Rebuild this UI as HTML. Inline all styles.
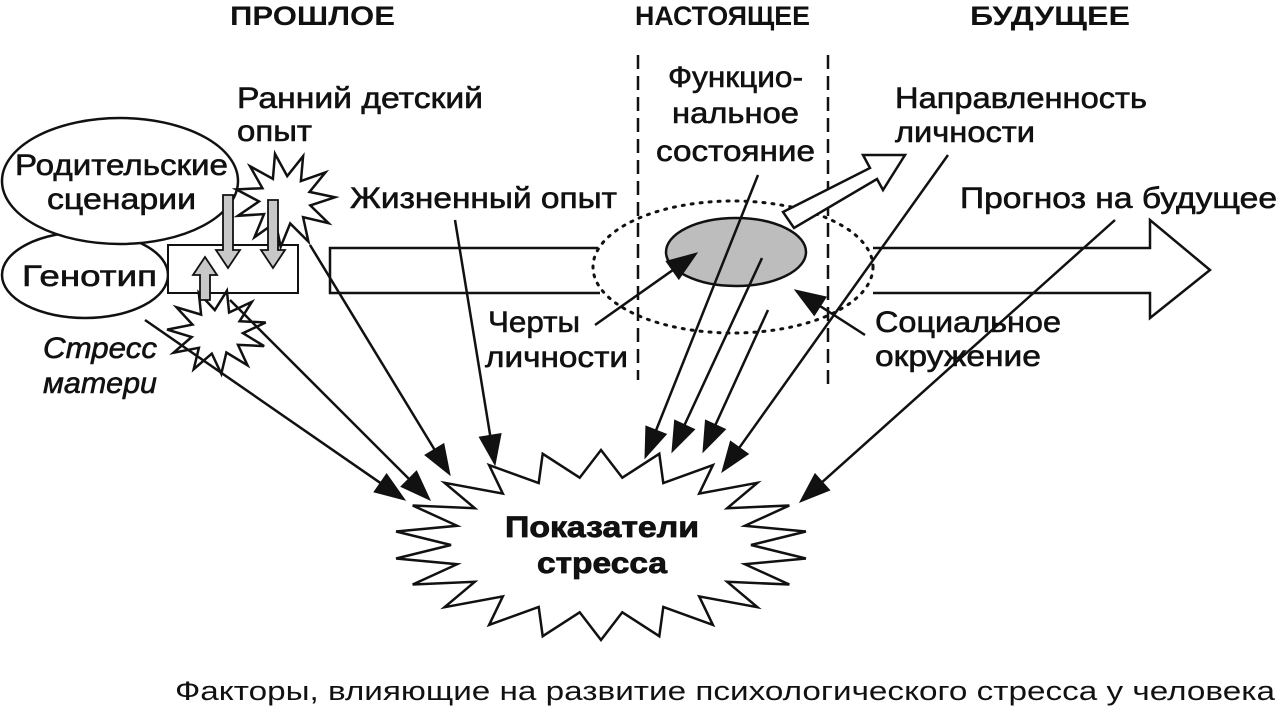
<!DOCTYPE html>
<html><head><meta charset="utf-8"><style>
html,body{margin:0;padding:0;background:#fff;}
svg{display:block;}
text{font-family:"Liberation Sans","DejaVu Sans",sans-serif;fill:#111;}
</style></head><body>
<svg id="s" width="1280" height="707" viewBox="0 0 1280 707" xmlns="http://www.w3.org/2000/svg">
<rect width="1280" height="707" fill="#fff"/>
<g font-size="27" font-weight="bold">
<text x="230" y="25" textLength="165" lengthAdjust="spacingAndGlyphs">ПРОШЛОЕ</text>
<text x="635" y="25" textLength="175" lengthAdjust="spacingAndGlyphs">НАСТОЯЩЕЕ</text>
<text x="970" y="25" textLength="160" lengthAdjust="spacingAndGlyphs">БУДУЩЕЕ</text>
</g>
<line x1="638" y1="55" x2="638" y2="380" stroke="#111" stroke-width="2.5" stroke-dasharray="14,7"/>
<line x1="828" y1="55" x2="828" y2="385" stroke="#111" stroke-width="2.5" stroke-dasharray="14,7"/>
<ellipse cx="85" cy="275" rx="83" ry="43" fill="#fff" stroke="#111" stroke-width="2.5"/>
<ellipse cx="120" cy="181" rx="118" ry="63" fill="#fff" stroke="#111" stroke-width="2.5"/>
<rect x="168" y="245" width="130" height="48" fill="#fff" stroke="#111" stroke-width="2"/>
<path d="M598,248 L330,248 L330,293 L600,293" fill="none" stroke="#111" stroke-width="2.5"/>
<path d="M873,248 L1150,248 L1150,220 L1210,270 L1150,318 L1150,293 L873,293" fill="#fff" stroke="#111" stroke-width="2.5"/>
<ellipse cx="733" cy="267" rx="140" ry="66" fill="none" stroke="#111" stroke-width="3" stroke-dasharray="2,7" stroke-linecap="round"/>
<path d="M783,212 L870,168 L863,155 L905,155 L883,190 L877,179 L794,228 Z" fill="#fff" stroke="#111" stroke-width="2.5"/>
<ellipse cx="736" cy="252" rx="70" ry="34" fill="#bdbdbd" stroke="#111" stroke-width="2.5"/>
<g id="bursts"></g>
<g fill="#c8c8c8" stroke="#111" stroke-width="1.8">
<path d="M223,195 L233,195 L233,250 L240,250 L228,268 L216,250 L223,250 Z"/>
<path d="M268,200 L278,200 L278,250 L285,250 L273,268 L261,250 L268,250 Z"/>
<path d="M200,300 L210,300 L210,275 L217,275 L205,257 L193,275 L200,275 Z"/>
</g>
<g id="arrows" stroke="#111" stroke-width="2.5" fill="#111"></g>
<g font-size="30" style="font-weight:normal;stroke:#111;stroke-width:0.6">
<text x="237" y="108" textLength="246" lengthAdjust="spacingAndGlyphs">Ранний детский</text>
<text x="237" y="141" textLength="75" lengthAdjust="spacingAndGlyphs">опыт</text>
<text x="15" y="175" textLength="213" lengthAdjust="spacingAndGlyphs">Родительские</text>
<text x="47" y="209" textLength="149" lengthAdjust="spacingAndGlyphs">сценарии</text>
<text x="22" y="286" textLength="135" lengthAdjust="spacingAndGlyphs">Генотип</text>
<text x="43" y="358" font-style="italic" textLength="114" lengthAdjust="spacingAndGlyphs">Стресс</text>
<text x="43" y="393" font-style="italic" textLength="114" lengthAdjust="spacingAndGlyphs">матери</text>
<text x="350" y="208" textLength="267" lengthAdjust="spacingAndGlyphs">Жизненный опыт</text>
<text x="668" y="87" textLength="135" lengthAdjust="spacingAndGlyphs">Функцио-</text>
<text x="672" y="123" textLength="127" lengthAdjust="spacingAndGlyphs">нальное</text>
<text x="656" y="161" textLength="159" lengthAdjust="spacingAndGlyphs">состояние</text>
<text x="895" y="108" textLength="252" lengthAdjust="spacingAndGlyphs">Направленность</text>
<text x="895" y="142" textLength="140" lengthAdjust="spacingAndGlyphs">личности</text>
<text x="960" y="208" textLength="317" lengthAdjust="spacingAndGlyphs">Прогноз на будущее</text>
<text x="488" y="332" textLength="92" lengthAdjust="spacingAndGlyphs">Черты</text>
<text x="485" y="367" textLength="143" lengthAdjust="spacingAndGlyphs">личности</text>
<text x="875" y="332" textLength="186" lengthAdjust="spacingAndGlyphs">Социальное</text>
<text x="875" y="366" textLength="166" lengthAdjust="spacingAndGlyphs">окружение</text>
</g>
<g font-size="30" font-weight="bold" style="stroke:#111;stroke-width:0.8">
<text x="505" y="537" textLength="194" lengthAdjust="spacingAndGlyphs">Показатели</text>
<text x="537" y="573" textLength="130" lengthAdjust="spacingAndGlyphs">стресса</text>
</g>
<text x="175" y="700" font-size="27" textLength="1100" lengthAdjust="spacingAndGlyphs">Факторы, влияющие на развитие психологического стресса у человека</text>
<script>
(function(){
var NS="http://www.w3.org/2000/svg";
function burst(cx,cy,rxo,ryo,rxi,ryi,n,rot,g){
 var p=[];for(var i=0;i<2*n;i++){var a=rot+Math.PI*i/n;var o=i%2==0;
 p.push((cx+(o?rxo:rxi)*Math.cos(a)).toFixed(1)+","+(cy+(o?ryo:ryi)*Math.sin(a)).toFixed(1));}
 var e=document.createElementNS(NS,"polygon");e.setAttribute("points",p.join(" "));
 e.setAttribute("fill","#fff");e.setAttribute("stroke","#111");e.setAttribute("stroke-width","2.5");g.appendChild(e);}
var bg=document.getElementById("bursts");
burst(601,545,207,95,150,68,22,-Math.PI/2,bg);
burst(285,200,50,47,26,24,11,-1.2,bg);
burst(217,332,50,42,26,22,11,-0.8,bg);
var ag=document.getElementById("arrows");
function arr(x1,y1,x2,y2){
 var dx=x2-x1,dy=y2-y1,L=Math.sqrt(dx*dx+dy*dy),ux=dx/L,uy=dy/L,h=30,w=11;
 var bx=x2-ux*h,by=y2-uy*h;
 var l=document.createElementNS(NS,"line");l.setAttribute("x1",x1);l.setAttribute("y1",y1);l.setAttribute("x2",bx);l.setAttribute("y2",by);ag.appendChild(l);
 var p=document.createElementNS(NS,"polygon");
 p.setAttribute("points",x2+","+y2+" "+(bx-uy*w)+","+(by+ux*w)+" "+(bx+uy*w)+","+(by-ux*w));
 p.setAttribute("stroke-width","1");ag.appendChild(p);}
arr(145,320,405,500);
arr(230,300,430,500);
arr(310,245,450,475);
arr(455,220,495,465);
arr(758,175,645,458);
arr(762,258,672,452);
arr(768,310,703,452);
arr(948,155,722,472);
arr(1115,220,800,502);
arr(595,325,697,253);
arr(865,335,795,290);
})();
</script>
</svg>
</body></html>
